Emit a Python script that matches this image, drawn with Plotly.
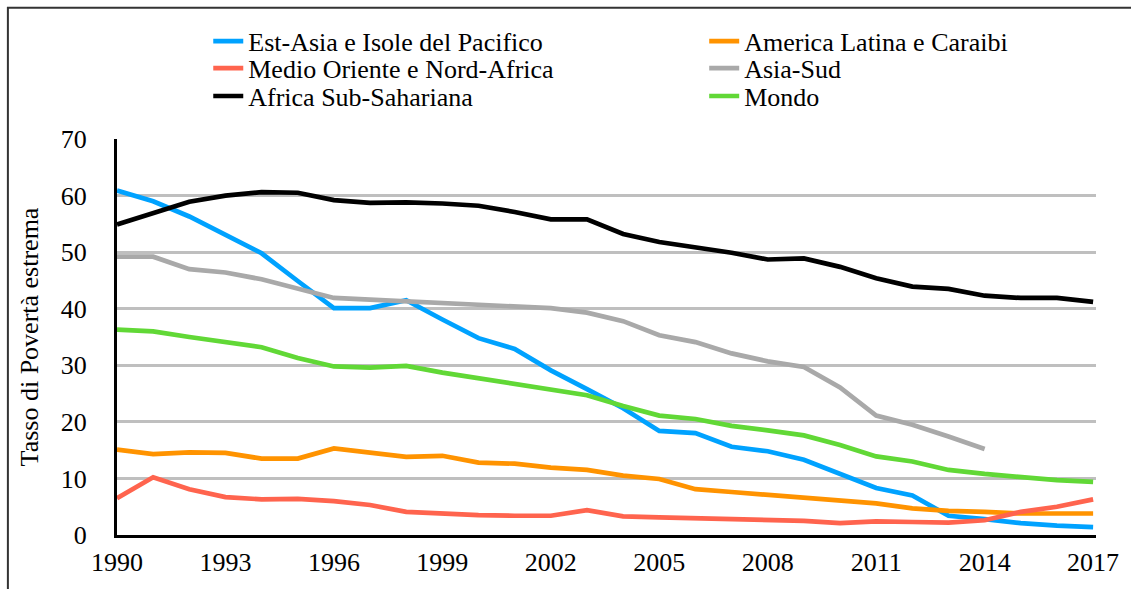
import plotly.graph_objects as go

years = list(range(1990, 2018))

est_asia = [60.9, 59.0, 56.3, 53.1, 49.8, 44.9, 40.1, 40.1, 41.5, 38.1, 34.8, 32.9, 29.1, 25.8,
            22.4, 18.4, 18.0, 15.6, 14.8, 13.3, 10.9, 8.3, 7.0, 3.4, 2.8, 2.1, 1.65, 1.4]
america_latina = [15.1, 14.3, 14.6, 14.5, 13.5, 13.5, 15.3, 14.6, 13.8, 14.0, 12.8, 12.6, 11.9, 11.5,
                  10.5, 9.9, 8.1, 7.6, 7.1, 6.7, 6.2, 5.6, 4.7, 4.25, 4.1, 3.8, 3.8, 3.8]
medio_oriente = [6.5, 10.2, 8.1, 6.7, 6.3, 6.4, 6.0, 5.3, 4.1, 3.7, 3.5, 3.4, 3.4, 4.4,
                 3.3, 3.1, 2.95, 2.95, 2.8, 2.5, 2.1, 2.4, 2.3, 2.2, 2.6, 4.1, 5.0, 6.3]
asia_sud = [49.2, 49.2, 47.0, 46.4, 45.2, 43.6, 41.9, 41.6, 41.3, 41.2, 40.9, 40.6, 40.1, 39.3,
            37.8, 35.3, 34.1, 32.1, 30.7, 29.7, 26.1, 21.1, 19.5, 17.4, 15.2]
africa_sub = [54.9, 56.8, 58.9, 60.0, 60.6, 60.5, 59.2, 58.7, 58.8, 58.6, 58.2, 57.1, 55.8, 55.8,
              53.2, 51.8, 50.9, 49.9, 48.7, 48.9, 47.4, 45.4, 43.9, 43.5, 42.3, 41.9, 41.9, 41.2]
mondo = [36.3, 36.0, 35.0, 34.2, 33.2, 31.3, 29.8, 29.6, 29.9, 28.7, 27.7, 26.9, 25.7, 24.7,
         22.8, 21.1, 20.5, 19.3, 18.5, 17.6, 15.9, 13.9, 13.0, 11.5, 10.8, 10.2, 9.7, 9.4]

x_ticks = [1990, 1993, 1996, 1999, 2002, 2005, 2008, 2011, 2014, 2017]
y_ticks = [0, 10, 20, 30, 40, 50, 60, 70]

# (name, values, colour, legend column, legend row)
series = [
    ("Est-Asia e Isole del Pacifico", est_asia, "#00A2FF", 0, 0),
    ("America Latina e Caraibi", america_latina, "#FF9300", 1, 0),
    ("Medio Oriente e Nord-Africa", medio_oriente, "#FF644E", 0, 1),
    ("Asia-Sud", asia_sud, "#A9A9A9", 1, 1),
    ("Africa Sub-Sahariana", africa_sub, "#000000", 0, 2),
    ("Mondo", mondo, "#61D836", 1, 2),
]

FONT = "Liberation Serif"
FS = 26

L, R, T, B = 117, 27, 139, 53
W, H = 1131, 589
pw = W - L - R
ph = H - T - B

col_px = [209, 709]
row_px = [41, 68, 96]

fig = go.Figure()
legends = {}
for i, (name, vals, color, col, row) in enumerate(series):
    key = "legend" if i == 0 else f"legend{i + 1}"
    fig.add_trace(go.Scatter(
        x=years[:len(vals)], y=vals, mode="lines", name=name,
        line=dict(color=color, width=4.7), cliponaxis=False, legend=key,
    ))
    legends[key] = dict(
        orientation="h",
        x=(col_px[col] - L) / pw, xanchor="left",
        y=(H - B - row_px[row]) / ph, yanchor="middle",
        itemwidth=30,
        font=dict(family=FONT, size=FS, color="black"),
        bgcolor="rgba(0,0,0,0)",
    )

fig.update_layout(
    width=W, height=H,
    margin=dict(l=L, r=R, t=T, b=B),
    paper_bgcolor="white", plot_bgcolor="white",
    font=dict(family=FONT, size=FS, color="black"),
    showlegend=True,
    xaxis=dict(
        range=[1990, 2017.08], tickmode="array", tickvals=x_ticks,
        ticktext=[str(v) for v in x_ticks],
        showgrid=False, zeroline=False,
        showline=True, linecolor="black", linewidth=3,
        ticks="", ticklabelstandoff=2,
        tickfont=dict(family=FONT, size=FS, color="black"),
    ),
    yaxis=dict(
        range=[0, 70], tickmode="array", tickvals=y_ticks,
        ticktext=[str(v) for v in y_ticks],
        showgrid=True, gridcolor="#BFBFBF", gridwidth=2.5,
        zeroline=False,
        showline=True, linecolor="black", linewidth=3,
        ticks="", ticklabelstandoff=22,
        tickfont=dict(family=FONT, size=FS, color="black"),
        title=dict(text="Tasso di Povertà estrema", standoff=15,
                   font=dict(family=FONT, size=FS, color="black")),
    ),
    **legends,
)

# outer frame around the whole chart
fig.add_shape(
    type="rect", xref="paper", yref="paper",
    x0=(7 - L) / pw, x1=(W + 20 - L) / pw,
    y0=-(B + 30) / ph, y1=(H - B - 7.5) / ph,
    line=dict(color="#333333", width=2), fillcolor="rgba(0,0,0,0)", layer="above",
)

fig.write_html("out.html")
